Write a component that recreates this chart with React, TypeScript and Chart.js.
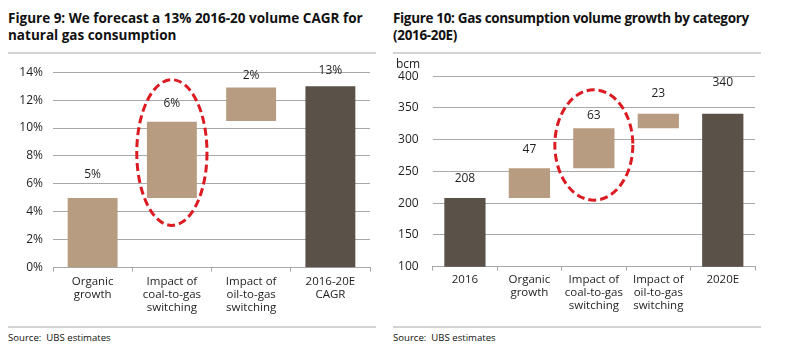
import React, { useEffect, useRef } from "react";
import { Chart, registerables } from "chart.js";

Chart.register(...registerables);

// ---------- data ----------
const leftCategories: string[][] = [
  ["Organic", "growth"],
  ["Impact of", "coal-to-gas", "switching"],
  ["Impact of", "oil-to-gas", "switching"],
  ["2016-20E", "CAGR"],
];
const leftStarts = [0, 5, 10.5, 0];
const leftEnds = [5, 10.45, 12.9, 13];
const leftLabels = ["5%", "6%", "2%", "13%"];
const leftTicks = { min: 0, max: 14, step: 2 };

const rightCategories: string[][] = [
  ["2016"],
  ["Organic", "growth"],
  ["Impact of", "coal-to-gas", "switching"],
  ["Impact of", "oil-to-gas", "switching"],
  ["2020E"],
];
const rightStarts = [0, 208, 255, 318, 0];
const rightEnds = [208, 255, 318, 341, 341];
const rightLabels = ["208", "47", "63", "23", "340"];
const rightTicks = { min: 100, max: 400, step: 50 };

// highlight ellipse: category index, value span
const leftEllipse = { index: 1, lo: 3.03, hi: 13.46, widthFactor: 0.443 };
const rightEllipse = { index: 2, lo: 204.8, hi: 378.6, widthFactor: 0.605 };

// ---------- style ----------
const TAN = "#b89c82";
const DARK = "#5a5249";
const GRID = "#a8a8a8";
const TEXT = "#1e1e1e";
const RED = "#dc1a22";
const FONT = "'Open Sans', sans-serif";
const leftColors = [TAN, TAN, TAN, DARK];
const rightColors = [DARK, TAN, TAN, TAN, DARK];
const leftLabelOffsets = [23, 18, 12, 16];
const rightLabelOffsets = [20, 19, 13, 20.5, 31];

function makeValueLabelPlugin(labels: string[], offsets: number[]) {
  return {
    id: "valueLabels",
    afterDatasetsDraw(chart: any) {
      const ctx = chart.ctx;
      const meta = chart.getDatasetMeta(0);
      ctx.save();
      ctx.font = `12px ${FONT}`;
      ctx.fillStyle = TEXT;
      ctx.textAlign = "center";
      ctx.textBaseline = "middle";
      meta.data.forEach((el: any, i: number) => {
        const top = Math.min(el.y, el.base);
        ctx.fillText(labels[i], el.x, top - offsets[i]);
      });
      ctx.restore();
    },
  };
}

function makeEllipsePlugin(spec: { index: number; lo: number; hi: number; widthFactor: number }) {
  return {
    id: "highlightEllipse",
    afterDraw(chart: any) {
      const { ctx, scales } = chart;
      const x = scales.x;
      const y = scales.y;
      const cx = x.getPixelForValue(spec.index);
      const catW = (x.right - x.left) / chart.data.labels.length;
      const yHi = y.getPixelForValue(spec.hi);
      const yLo = y.getPixelForValue(spec.lo);
      const cy = (yHi + yLo) / 2;
      const ry = Math.abs(yLo - yHi) / 2;
      const rx = catW * spec.widthFactor;
      ctx.save();
      ctx.strokeStyle = RED;
      ctx.lineWidth = 3;
      ctx.setLineDash([8, 4]);
      ctx.beginPath();
      ctx.ellipse(cx, cy, rx, ry, 0, 0, Math.PI * 2);
      ctx.stroke();
      ctx.restore();
    },
  };
}

interface PanelProps {
  categories: string[][];
  starts: number[];
  ends: number[];
  colors: string[];
  labels: string[];
  labelOffsets: number[];
  ticks: { min: number; max: number; step: number };
  suffix: string;
  ellipse: { index: number; lo: number; hi: number; widthFactor: number };
  width: number;
  height: number;
  padRight: number;
  padTop: number;
  yWidth: number;
  xHeight: number;
  yPad: number;
  xPad: number;
  barPct: number;
}

function Panel(p: PanelProps) {
  const ref = useRef<HTMLCanvasElement>(null);
  useEffect(() => {
    if (!ref.current) return;
    const chart = new Chart(ref.current, {
      type: "bar",
      data: {
        labels: p.categories as any,
        datasets: [
          {
            data: p.starts.map((s, i) => [s, p.ends[i]]) as any,
            backgroundColor: p.colors,
            borderWidth: 0,
            barPercentage: p.barPct,
            categoryPercentage: 1,
          },
        ],
      },
      options: {
        responsive: false,
        maintainAspectRatio: false,
        animation: false,
        devicePixelRatio: 1,
        layout: { padding: { left: 0, right: p.padRight, top: p.padTop, bottom: 0 } },
        plugins: { legend: { display: false }, tooltip: { enabled: false }, title: { display: false } },
        scales: {
          x: {
            grid: { offset: true, drawOnChartArea: false, drawTicks: true, tickLength: 4, color: GRID },
            border: { display: true, color: GRID, width: 1 },
            ticks: {
              color: TEXT,
              font: { family: FONT, size: 11.5, lineHeight: 13 / 11.5 },
              padding: p.xPad,
              maxRotation: 0,
              autoSkip: false,
            },
            afterFit: (s: any) => {
              s.height = p.xHeight;
            },
          },
          y: {
            min: p.ticks.min,
            max: p.ticks.max,
            grid: { drawTicks: false, color: GRID, lineWidth: 1 },
            border: { display: false },
            ticks: {
              stepSize: p.ticks.step,
              color: TEXT,
              font: { family: FONT, size: 12 },
              padding: p.yPad,
              callback: (v: any) => `${v}${p.suffix}`,
            },
            afterFit: (s: any) => {
              s.width = p.yWidth;
            },
          },
        },
      },
      plugins: [makeValueLabelPlugin(p.labels, p.labelOffsets), makeEllipsePlugin(p.ellipse)],
    });
    return () => chart.destroy();
  }, []);
  return <canvas ref={ref} width={p.width} height={p.height} style={{ width: p.width, height: p.height, display: "block" }} />;
}

const titleStyle: React.CSSProperties = {
  position: "absolute",
  fontFamily: FONT,
  fontWeight: 700,
  fontSize: 13.5,
  lineHeight: "17px",
  color: "#111",
  margin: 0,
  whiteSpace: "nowrap",
};
const sourceStyle: React.CSSProperties = {
  position: "absolute",
  fontFamily: FONT,
  fontSize: 9.6,
  lineHeight: "12px",
  color: "#111",
  whiteSpace: "pre",
};
const rule = (left: number, top: number, width: number): React.CSSProperties => ({
  position: "absolute",
  left,
  top,
  width,
  height: 2,
  background: "#d2d2d2",
});

export default function App() {
  return (
    <div style={{ position: "fixed", left: 0, top: 0, width: 785, height: 350, background: "#fff", overflow: "hidden" }}>
      <div style={{ ...titleStyle, left: 8, top: 10 }}>
        Figure 9: We forecast a 13% 2016-20 volume CAGR for
        <br />
        natural gas consumption
      </div>
      <div style={{ ...titleStyle, left: 393, top: 10, letterSpacing: "-0.33px" }}>
        Figure 10: Gas consumption volume growth by category
        <br />
        (2016-20E)
      </div>
      <div style={rule(8, 52, 368)} />
      <div style={rule(393, 52, 368)} />

      <div style={{ position: "absolute", left: 0, top: 55 }}>
        <Panel
          categories={leftCategories}
          starts={leftStarts}
          ends={leftEnds}
          colors={leftColors}
          labels={leftLabels}
          labelOffsets={leftLabelOffsets}
          ticks={leftTicks}
          suffix="%"
          ellipse={leftEllipse}
          width={385}
          height={270}
          padRight={15}
          padTop={15.7}
          yWidth={53}
          xHeight={57.3}
          yPad={10}
          xPad={4}
          barPct={0.63}
        />
      </div>
      <div style={{ position: "absolute", left: 385, top: 55 }}>
        <Panel
          categories={rightCategories}
          starts={rightStarts}
          ends={rightEnds}
          colors={rightColors}
          labels={rightLabels}
          labelOffsets={rightLabelOffsets}
          ticks={rightTicks}
          suffix=""
          ellipse={rightEllipse}
          width={400}
          height={270}
          padRight={30}
          padTop={20.7}
          yWidth={47.7}
          xHeight={58.3}
          yPad={14}
          xPad={3}
          barPct={0.64}
        />
      </div>
      <div style={{ position: "absolute", left: 396, top: 57, fontFamily: FONT, fontSize: 12, lineHeight: "14px", color: TEXT }}>
        bcm
      </div>

      <div style={rule(8, 326, 368)} />
      <div style={rule(393, 326, 368)} />
      <div style={{ ...sourceStyle, left: 8, top: 332 }}>Source:  UBS estimates</div>
      <div style={{ ...sourceStyle, left: 393, top: 332 }}>Source:  UBS estimates</div>
    </div>
  );
}
